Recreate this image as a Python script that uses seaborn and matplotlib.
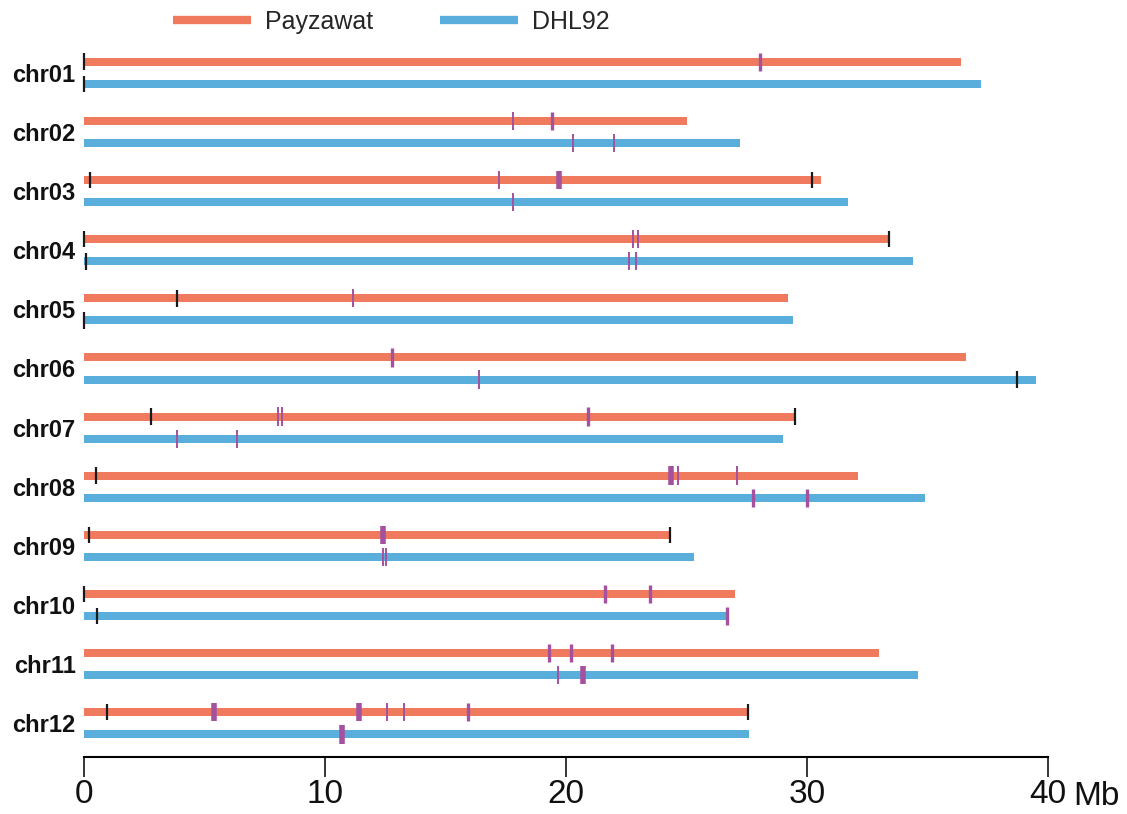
import matplotlib
matplotlib.use("Agg")
import matplotlib.pyplot as plt
from matplotlib.lines import Line2D
import numpy as np
import pandas as pd
import seaborn as sns


CHROMS = ["chr01", "chr02", "chr03", "chr04", "chr05", "chr06",
          "chr07", "chr08", "chr09", "chr10", "chr11", "chr12"]
GENOMES = ["Payzawat", "DHL92"]

# chromosome lengths, Mb
PAYZAWAT_LEN = [36.4, 25.0, 30.6, 33.4, 29.2, 36.6, 29.5, 32.1, 24.3, 27.0, 33.0, 27.6]
DHL92_LEN = [37.2, 27.2, 31.7, 34.4, 29.4, 39.5, 29.0, 34.9, 25.3, 26.7, 34.6, 27.6]

# black marks: (chromosome, genome, position Mb)
BLACK_CHROM = ["chr01", "chr03", "chr03", "chr04", "chr04", "chr05", "chr07", "chr07",
               "chr08", "chr09", "chr09", "chr10", "chr12", "chr12",
               "chr01", "chr04", "chr05", "chr06", "chr10"]
BLACK_GENOME = ["Payzawat"] * 14 + ["DHL92"] * 5
BLACK_POS = [0.0, 0.25, 30.2, 0.0, 33.4, 3.86, 2.8, 29.5,
             0.49, 0.22, 24.3, 0.0, 0.94, 27.57,
             0.0, 0.1, 0.0, 38.7, 0.53]

# purple marks: (chromosome, genome, position Mb, size class 1/2/3)
PURPLE_CHROM = ["chr01", "chr02", "chr02", "chr03", "chr03", "chr04", "chr04", "chr05",
                "chr06", "chr07", "chr07", "chr07", "chr08", "chr08", "chr08", "chr09",
                "chr10", "chr10", "chr11", "chr11", "chr11",
                "chr12", "chr12", "chr12", "chr12", "chr12",
                "chr02", "chr02", "chr03", "chr04", "chr04", "chr06", "chr07", "chr07",
                "chr08", "chr08", "chr09", "chr09", "chr10", "chr11", "chr11", "chr12"]
PURPLE_GENOME = ["Payzawat"] * 26 + ["DHL92"] * 16
PURPLE_POS = [28.05, 17.8, 19.4, 17.2, 19.7, 22.8, 23.0, 11.16,
              12.77, 8.04, 8.23, 20.9, 24.37, 24.63, 27.08, 12.42,
              21.6, 23.5, 19.28, 20.2, 21.9,
              5.39, 11.41, 12.57, 13.29, 15.93,
              20.3, 22.0, 17.8, 22.6, 22.9, 16.4, 3.85, 6.36,
              27.76, 30.0, 12.4, 12.55, 26.7, 19.67, 20.7, 10.69]
PURPLE_SIZE = [2, 1, 2, 1, 3, 1, 1, 1,
               2, 1, 1, 2, 3, 1, 1, 3,
               2, 2, 2, 2, 2,
               3, 3, 1, 1, 2,
               1, 1, 1, 1, 1, 1, 1, 1,
               2, 2, 1, 1, 2, 1, 3, 3]

COLORS = {"Payzawat": "#F07A5E", "DHL92": "#5AAEDB"}
BLACK = "#1a1a1a"
PURPLE = "#A4529F"
OFFSET = {"Payzawat": -0.1875, "DHL92": 0.1875}
BAR_H = 0.135


def row_y(chrom, genome):
    return CHROMS.index(chrom) + OFFSET[genome]


def main():
    sns.set_theme(style="white")
    plt.rcParams["font.family"] = ["Liberation Sans", "DejaVu Sans"]

    df = pd.DataFrame({
        "chrom": CHROMS * 2,
        "genome": ["Payzawat"] * 12 + ["DHL92"] * 12,
        "length": PAYZAWAT_LEN + DHL92_LEN,
    })

    fig = plt.figure(figsize=(11.27, 8.14), dpi=100)
    ax = fig.add_axes([84 / 1127, 1 - 757 / 814, (1048 - 84) / 1127, (757 - 45) / 814])

    sns.barplot(data=df, y="chrom", x="length", hue="genome", hue_order=GENOMES,
                order=CHROMS, palette=COLORS, orient="h", width=0.75,
                legend=False, linewidth=0, saturation=1, ax=ax)

    # make the bars thin around their dodge centers
    for p in ax.patches:
        cy = p.get_y() + p.get_height() / 2
        p.set_height(BAR_H)
        p.set_y(cy - BAR_H / 2)

    for c, g, x in zip(BLACK_CHROM, BLACK_GENOME, BLACK_POS):
        y = row_y(c, g)
        ax.vlines(x, y - 0.14, y + 0.14, color=BLACK, lw=1.6, clip_on=False, zorder=4)

    widths = {1: 1.4, 2: 2.4, 3: 4.0}
    for c, g, x, s in zip(PURPLE_CHROM, PURPLE_GENOME, PURPLE_POS, PURPLE_SIZE):
        y = row_y(c, g)
        ax.vlines(x, y - 0.155, y + 0.155, color=PURPLE, lw=widths[s], clip_on=False, zorder=5)

    ax.set_xlim(0, 40)
    ax.set_ylim(11.57, -0.47)
    ax.set_xlabel("")
    ax.set_ylabel("")
    for side in ["left", "right", "top"]:
        ax.spines[side].set_visible(False)
    ax.spines["bottom"].set_color("black")
    ax.spines["bottom"].set_linewidth(1.5)

    ax.set_xticks([0, 10, 20, 30, 40])
    ax.set_xticklabels(["0", "10", "20", "30", "40"], fontsize=24)
    ax.tick_params(axis="x", direction="out", length=14.4, width=1.1, color="black", pad=1.5,
                   bottom=True, labelcolor="#111111")
    ax.tick_params(axis="y", length=0, pad=6)
    for lab in ax.get_yticklabels():
        lab.set_fontweight("bold")
        lab.set_fontsize(17)
        lab.set_color("#111111")
    ax.annotate("Mb", xy=(40, 0), xycoords=("data", "axes fraction"),
                xytext=(18, -34.5), textcoords="offset points", ha="left", va="baseline",
                fontsize=24, color="#111111")

    handles = [Line2D([0], [0], color=COLORS[g], lw=6, solid_capstyle="butt") for g in GENOMES]
    fig.legend(handles, GENOMES, loc="upper left", bbox_to_anchor=(173 / 1127, 1 - 10 / 814),
               ncol=2, frameon=False, fontsize=18, handlelength=3.12, handletextpad=0.56,
               columnspacing=2.68, borderpad=0, borderaxespad=0)

    fig.savefig("out.png", dpi=100)


if __name__ == "__main__":
    main()
